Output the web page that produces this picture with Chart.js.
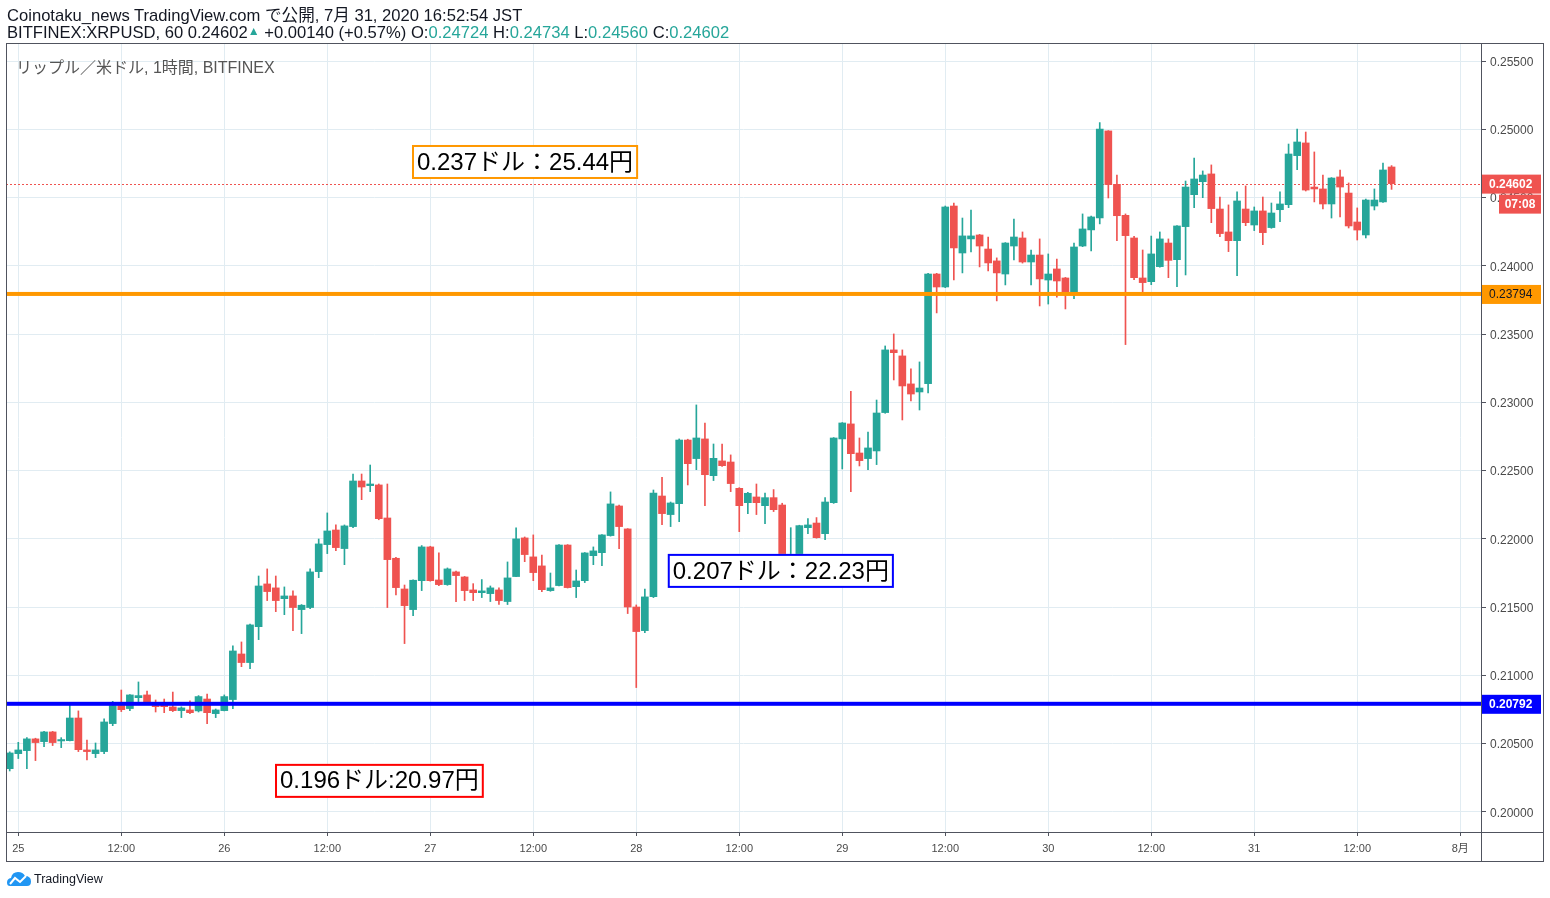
<!DOCTYPE html>
<html><head><meta charset="utf-8">
<script src="https://cdn.jsdelivr.net/npm/chart.js@4.4.0/dist/chart.umd.min.js"></script>
<style>
html,body{margin:0;padding:0;background:#fff;width:1550px;height:898px;overflow:hidden;}
#wrap{position:relative;width:1550px;height:898px;}
#c{position:absolute;left:0;top:0;width:1550px;height:898px;}
.hdr{position:absolute;left:7px;font-family:'Liberation Sans','Noto Sans CJK JP',sans-serif;font-size:16.6px;line-height:17px;color:#131722;white-space:nowrap;}
.v{color:#26a69a}
.tri{color:#26a69a;font-size:12px;position:relative;top:-3px;}
#title{position:absolute;left:16px;top:54px;font-family:'Liberation Sans','Noto Sans CJK JP',sans-serif;font-size:16px;color:#555;white-space:nowrap;}
#logo{position:absolute;left:7px;top:871px;font-family:'Liberation Sans',sans-serif;font-size:12.5px;color:#131722;white-space:nowrap;display:flex;align-items:center;}
#logo svg{margin-right:3px;}
</style></head><body>
<div id="wrap">
<canvas id="c" width="1550" height="898"></canvas>
<div class="hdr" style="top:7px">Coinotaku_news TradingView.com で公開, 7月 31, 2020 16:52:54 JST</div>
<div class="hdr" style="top:24px">BITFINEX:XRPUSD, 60 0.24602<span class="tri">▲</span> +0.00140 (+0.57%) O:<span class="v">0.24724</span> H:<span class="v">0.24734</span> L:<span class="v">0.24560</span> C:<span class="v">0.24602</span></div>
<div id="title">リップル／米ドル, 1時間, BITFINEX</div>
<div id="logo"><svg width="24" height="16" viewBox="0 0 24 16"><path d="M3 15 Q0 15 0 11.5 Q0 7.5 4 7 Q5 1 11 1 Q16 1 18 5 Q24 5 24 10.5 Q24 15 20 15 Z" fill="#2196f3"/><polyline points="3,13 8,7 13,11 19,5" stroke="#fff" stroke-width="2" fill="none"/></svg>TradingView</div>
</div>
<script>
// hourly candles, first candle = 24 Jul 23:00 (hour -1 relative to 25 Jul 00:00)
const firstHour = -1;
const opens = [
0.20317,0.20427,0.20449,0.20535,0.20515,0.20586,0.20520,0.20522,0.20688,0.20454,0.20427,0.20442,0.20647,0.20779,0.20757,0.20837,0.20857,0.20779,0.20781,0.20769,
0.20742,0.20747,0.20740,0.20827,0.20720,0.20742,0.20823,0.21157,0.21094,0.21357,0.21670,0.21641,0.21562,0.21582,0.21482,0.21497,0.21760,0.21958,0.22065,0.21929,
0.22090,0.22424,0.22390,0.22395,0.22153,0.21858,0.21633,0.21482,0.21694,0.21941,0.21699,0.21665,0.21758,0.21721,0.21626,0.21606,0.21599,0.21626,0.21541,0.21724,
0.22007,0.21868,0.21802,0.21621,0.21658,0.21955,0.21650,0.21694,0.21877,0.21899,0.22024,0.22241,0.22073,0.21501,0.21328,0.21577,0.22314,0.22178,0.22258,0.22724,
0.22588,0.22732,0.22463,0.22571,0.22563,0.22370,0.22265,0.22307,0.22243,0.22302,0.22248,0.21865,0.21858,0.22082,0.22116,0.22038,0.22265,0.22732,0.22842,0.22629,
0.22588,0.22644,0.22925,0.23384,0.23340,0.23135,0.23076,0.23137,0.23940,0.23845,0.24438,0.24094,0.24197,0.24226,0.24123,0.24036,0.23940,0.24145,0.24204,0.24028,
0.24079,0.23896,0.23977,0.23911,0.23790,0.24145,0.24263,0.24350,0.24988,0.24597,0.24370,0.24204,0.23911,0.23884,0.23994,0.24167,0.24045,0.24287,0.24521,0.24616,
0.24673,0.24416,0.24248,0.24184,0.24416,0.24299,0.24402,0.24280,0.24411,0.24448,0.24807,0.24900,0.24577,0.24563,0.24453,0.24651,0.24533,0.24321,0.24226,0.24438,
0.24468,0.24724];
const highs = [
0.20440,0.20510,0.20544,0.20540,0.20590,0.20590,0.20544,0.20781,0.20740,0.20527,0.20505,0.20681,0.20810,0.20893,0.20860,0.20952,0.20886,0.20820,0.20827,0.20878,
0.20770,0.20813,0.20852,0.20864,0.20754,0.20857,0.21216,0.21245,0.21375,0.21728,0.21780,0.21728,0.21648,0.21619,0.21519,0.21780,0.21999,0.22190,0.22102,0.22102,
0.22475,0.22475,0.22541,0.22402,0.22402,0.21865,0.21662,0.21700,0.21951,0.21946,0.21897,0.21787,0.21765,0.21725,0.21672,0.21702,0.21655,0.21641,0.21831,0.22080,
0.22014,0.22029,0.21882,0.21750,0.21958,0.21958,0.21772,0.21900,0.21941,0.22032,0.22344,0.22248,0.22075,0.21516,0.21633,0.22358,0.22450,0.22270,0.22732,0.22730,
0.22981,0.22849,0.22695,0.22695,0.22615,0.22375,0.22340,0.22402,0.22336,0.22361,0.22261,0.22082,0.22100,0.22148,0.22156,0.22302,0.22742,0.22852,0.23081,0.22739,
0.22783,0.23017,0.23413,0.23501,0.23384,0.23245,0.23296,0.23945,0.23945,0.24438,0.24460,0.24350,0.24409,0.24230,0.24211,0.24058,0.24170,0.24343,0.24248,0.24116,
0.24197,0.24087,0.24050,0.23915,0.24167,0.24380,0.24365,0.25049,0.24990,0.24665,0.24380,0.24216,0.24116,0.24218,0.24248,0.24197,0.24295,0.24621,0.24790,0.24695,
0.24739,0.24504,0.24446,0.24541,0.24585,0.24431,0.24504,0.24460,0.24541,0.24892,0.25002,0.24980,0.24834,0.24665,0.24646,0.24702,0.24607,0.24424,0.24489,0.24563,
0.24753,0.24734];
const lows = [
0.20300,0.20391,0.20317,0.20376,0.20478,0.20486,0.20471,0.20520,0.20442,0.20381,0.20398,0.20427,0.20632,0.20735,0.20742,0.20808,0.20790,0.20732,0.20727,0.20735,
0.20691,0.20720,0.20732,0.20647,0.20691,0.20740,0.20757,0.21064,0.21050,0.21262,0.21548,0.21467,0.21445,0.21328,0.21306,0.21489,0.21716,0.21892,0.21914,0.21811,
0.22082,0.22287,0.22346,0.22140,0.21497,0.21589,0.21233,0.21438,0.21621,0.21690,0.21658,0.21660,0.21540,0.21548,0.21548,0.21570,0.21541,0.21519,0.21519,0.21724,
0.21833,0.21694,0.21614,0.21616,0.21655,0.21640,0.21570,0.21680,0.21811,0.21804,0.22020,0.21929,0.21453,0.20911,0.21313,0.21570,0.22104,0.22090,0.22126,0.22395,
0.22507,0.22243,0.22427,0.22530,0.22346,0.22053,0.22185,0.22178,0.22112,0.22200,0.21841,0.21830,0.21850,0.22038,0.22005,0.21994,0.22260,0.22512,0.22346,0.22534,
0.22507,0.22544,0.22920,0.23164,0.22871,0.23010,0.22944,0.23069,0.23655,0.23840,0.23896,0.23948,0.24101,0.23992,0.23962,0.23743,0.23860,0.24043,0.24020,0.23860,
0.23706,0.23720,0.23770,0.23684,0.23760,0.24140,0.24109,0.24307,0.24497,0.24184,0.23423,0.23899,0.23808,0.23862,0.23990,0.23913,0.23847,0.23933,0.24426,0.24499,
0.24316,0.24214,0.24104,0.23928,0.24294,0.24258,0.24155,0.24275,0.24324,0.24426,0.24704,0.24548,0.24468,0.24416,0.24350,0.24358,0.24277,0.24189,0.24204,0.24409,
0.24465,0.24560];
const closes = [
0.20432,0.20454,0.20535,0.20508,0.20586,0.20508,0.20530,0.20688,0.20456,0.20442,0.20454,0.20659,0.20779,0.20749,0.20857,0.20852,0.20796,0.20771,0.20771,0.20742,
0.20762,0.20727,0.20845,0.20727,0.20747,0.20845,0.21179,0.21094,0.21370,0.21655,0.21614,0.21548,0.21582,0.21497,0.21514,0.21758,0.21963,0.22058,0.21936,0.22095,
0.22424,0.22380,0.22402,0.22148,0.21848,0.21643,0.21511,0.21697,0.21941,0.21694,0.21665,0.21780,0.21731,0.21621,0.21606,0.21619,0.21641,0.21548,0.21714,0.22000,
0.21885,0.21753,0.21628,0.21641,0.21955,0.21643,0.21692,0.21897,0.21912,0.22029,0.22256,0.22090,0.21501,0.21321,0.21575,0.22336,0.22185,0.22263,0.22724,0.22551,
0.22739,0.22470,0.22590,0.22536,0.22405,0.22243,0.22334,0.22265,0.22302,0.22214,0.21846,0.21877,0.22097,0.22102,0.22009,0.22270,0.22739,0.22849,0.22624,0.22573,
0.22666,0.22922,0.23384,0.23364,0.23120,0.23061,0.23105,0.23940,0.23845,0.24431,0.24131,0.24219,0.24219,0.24145,0.24021,0.23948,0.24167,0.24211,0.24028,0.24079,
0.23904,0.23940,0.23889,0.23790,0.24138,0.24270,0.24358,0.25002,0.24595,0.24367,0.24221,0.23913,0.23877,0.24087,0.24197,0.24040,0.24292,0.24577,0.24636,0.24665,
0.24419,0.24236,0.24184,0.24475,0.24316,0.24402,0.24243,0.24387,0.24453,0.24819,0.24907,0.24555,0.24563,0.24453,0.24643,0.24577,0.24292,0.24262,0.24482,0.24482,
0.24702,0.24602];
const tickLabels = ['25','12:00','26','12:00','27','12:00','28','12:00','29','12:00','30','12:00','31','12:00','8月'];
const lastPrice = 0.24602;
const countdown = '07:08';
const orangeLevel = 0.23794;
const blueLevel = 0.20792;
const notes = [
  {text:'0.237ドル：25.44円', hour:45.87, price:0.24885, color:'#ff9800'},
  {text:'0.207ドル：22.23円', hour:75.67, price:0.21890, color:'#0000ff'},
  {text:'0.196ドル:20.97円', hour:29.91, price:0.20352, color:'#ff0000'}
];

const UP='#26a69a', DOWN='#ef5350', AXIS='#50535e', GRID='#e1ecf2';
const colors = closes.map((c,i)=> c>=opens[i]?UP:DOWN);
const bodies = opens.map((o,i)=>({x:firstHour+i, y:[o, closes[i]]}));
const wicks = lows.map((l,i)=>({x:firstHour+i, y:[l, highs[i]]}));

const overlay = {
  id:'overlay',
  beforeDatasetsDraw(chart){
    const {ctx, chartArea:a, scales:{y}} = chart;
    const py = Math.round(y.getPixelForValue(lastPrice))+0.5;
    ctx.save();
    ctx.strokeStyle = DOWN; ctx.lineWidth = 1; ctx.setLineDash([2,2]);
    ctx.beginPath(); ctx.moveTo(a.left, py); ctx.lineTo(a.right, py); ctx.stroke();
    ctx.restore();
  },
  afterDatasetsDraw(chart){
    const {ctx, chartArea:a, scales:{y}} = chart;
    ctx.save();
    [[orangeLevel,'#ff9800'],[blueLevel,'#0000ff']].forEach(([v,c])=>{
      const py = y.getPixelForValue(v);
      ctx.fillStyle = c; ctx.fillRect(a.left, py-2, a.right-a.left, 4);
    });
    ctx.restore();
  },
  afterDraw(chart){
    const {ctx, chartArea:a, scales:{x,y}} = chart;
    ctx.save();
    // annotation boxes
    ctx.font = "24px 'Liberation Sans','Noto Sans CJK JP',sans-serif";
    ctx.textBaseline = 'middle';
    notes.forEach(n=>{
      const lx = x.getPixelForValue(n.hour), ty = y.getPixelForValue(n.price);
      const w = ctx.measureText(n.text).width + 10, h = 34;
      ctx.fillStyle = '#fff'; ctx.fillRect(lx, ty, w, h);
      ctx.strokeStyle = n.color; ctx.lineWidth = 2; ctx.strokeRect(lx+1, ty+1, w-2, h-2);
      ctx.fillStyle = '#000'; ctx.textAlign='left'; ctx.fillText(n.text, lx+5, ty+h/2+1);
    });
    // right axis value labels
    const lab = (v, bg, fg, bold) => {
      const py = y.getPixelForValue(v);
      ctx.fillStyle = bg; ctx.fillRect(a.right, py-9, 60, 19);
      ctx.fillStyle = fg; ctx.font = (bold?'bold ':'')+"12px 'Liberation Sans',sans-serif";
      ctx.textAlign='left'; ctx.fillText(v.toFixed(5), a.right+8, py+1);
      return py;
    };
    const pl = lab(lastPrice, DOWN, '#fff', true);
    ctx.fillStyle = DOWN; ctx.fillRect(a.right+18, pl+11, 42, 19);
    ctx.fillStyle = '#fff'; ctx.font = "bold 12px 'Liberation Sans',sans-serif"; ctx.textAlign='center';
    ctx.fillText(countdown, a.right+39, pl+21);
    lab(orangeLevel, '#ff9800', '#131722', false);
    lab(blueLevel, '#0000ff', '#fff', true);
    // frame
    ctx.strokeStyle = AXIS; ctx.lineWidth = 1;
    ctx.strokeRect(6.5, 43.5, 1537, 818);
    ctx.beginPath();
    ctx.moveTo(a.right+0.5, 43); ctx.lineTo(a.right+0.5, 861);
    ctx.moveTo(6, a.bottom+0.5); ctx.lineTo(1543, a.bottom+0.5);
    ctx.stroke();
    ctx.restore();
  }
};

new Chart(document.getElementById('c'), {
  type:'bar',
  data:{datasets:[
    {data:bodies, backgroundColor:colors, barThickness:7, minBarLength:1, grouped:false, order:1},
    {data:wicks, backgroundColor:colors, barThickness:1, grouped:false, order:2}
  ]},
  options:{
    responsive:false, animation:false, devicePixelRatio:1,
    layout:{padding:{left:6, top:43, right:7, bottom:37}},
    plugins:{legend:{display:false}, tooltip:{enabled:false}},
    scales:{
      x:{type:'linear', min:-1.433, max:170.42, offset:false,
        afterFit(s){ s.height = 29; },
        grid:{color:GRID, offset:false, tickLength:4, tickColor:AXIS, drawOnChartArea:true},
        border:{display:true, color:AXIS},
        ticks:{stepSize:12, includeBounds:false, autoSkip:false, maxRotation:0, padding:6,
          color:'#4a4a4a', font:{family:"'Liberation Sans','Noto Sans CJK JP',sans-serif", size:11},
          callback:(v)=> tickLabels[Math.round(v/12)] ?? ''}
      },
      y:{type:'linear', position:'right', min:0.19853, max:0.25632, beginAtZero:false,
        afterFit(s){ s.width = 62; },
        grid:{color:GRID, tickLength:5, tickColor:AXIS},
        border:{display:true, color:AXIS},
        ticks:{stepSize:0.005, includeBounds:false, padding:4, labelOffset:1.5, color:'#4a4a4a',
          font:{family:"'Liberation Sans',sans-serif", size:12},
          callback:(v)=> Number(v).toFixed(5)}
      }
    }
  },
  plugins:[overlay]
});
</script>
</body></html>
